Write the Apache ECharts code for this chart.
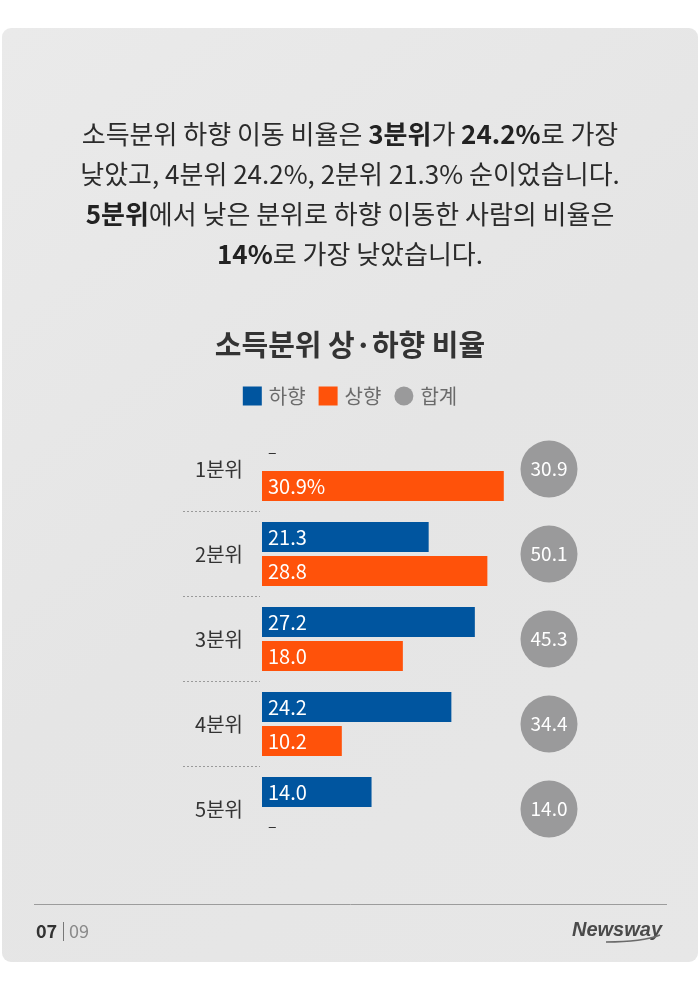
<!DOCTYPE html>
<html>
<head>
<meta charset="utf-8">
<script src="https://cdn.jsdelivr.net/npm/echarts@6/dist/echarts.min.js"></script>
<style>
html,body{margin:0;padding:0;background:#ffffff;}
#chart{width:700px;height:990px;}
</style>
</head>
<body>
<div id="chart"></div>
<script>
// ---- data ----
const categories = ['1분위', '2분위', '3분위', '4분위', '5분위'];
const downward = [null, 21.3, 27.2, 24.2, 14.0];   // 하향
const upward   = [30.9, 28.8, 18.0, 10.2, null];   // 상향
const totals   = [30.9, 50.1, 45.3, 34.4, 14.0];   // 합계
const seriesNames = ['하향', '상향', '합계'];
const introLines = [
  '소득분위 하향 이동 비율은 {b|3분위}가 {b|24.2%}로 가장',
  '낮았고, 4분위 24.2%, 2분위 21.3% 순이었습니다.',
  '{b|5분위}에서 낮은 분위로 하향 이동한 사람의 비율은',
  '{b|14%}로 가장 낮았습니다.'
];
const chartTitle = '소득분위 상·하향 비율';
const pageCurrent = '07';
const pageTotal = '09';
const brand = 'Newsway';

// ---- styles ----
const FONT = '"Noto Sans CJK KR", "Noto Sans", sans-serif';
const BLUE = '#00559f';
const ORANGE = '#ff520a';
const GREY = '#9a9a9b';
const introTop = 118, introStep = 40;

const chart = echarts.init(document.getElementById('chart'), null, {renderer: 'canvas'});

const titles = introLines.map((line, i) => ({
  text: line,
  left: 'center',
  top: introTop + i * introStep,
  padding: 0,
  textStyle: {
    fontFamily: FONT, fontSize: 26, fontWeight: 'normal', color: '#2b2b2b', lineHeight: 32,
    rich: { b: { fontFamily: FONT, fontSize: 26, fontWeight: 'bold', color: '#222', lineHeight: 32 } }
  }
}));
titles.push({
  text: chartTitle,
  left: 'center',
  top: 328,
  padding: 0,
  textStyle: { fontFamily: FONT, fontSize: 29, fontWeight: 'bold', color: '#333', lineHeight: 34 }
});

function dataItems(arr, firstSuffix) {
  return arr.map((v, i) => {
    if (v === null) {
      return {
        value: 0,
        label: { show: true, position: 'right', distance: 6, formatter: '–', color: '#333', fontSize: 16 }
      };
    }
    const item = { value: v };
    if (firstSuffix && i === 0) {
      item.label = { formatter: v.toFixed(1) + '%' };
    }
    return item;
  });
}

const barLabel = {
  show: true,
  position: 'insideLeft',
  distance: 6,
  color: '#fff',
  fontFamily: FONT,
  fontSize: 20,
  formatter: p => Number(p.value).toFixed(1)
};

const option = {
  backgroundColor: 'transparent',
  animation: false,
  title: titles,
  legend: {
    top: 381,
    left: 'center',
    itemWidth: 19,
    itemHeight: 19,
    itemGap: 13,
    textStyle: { fontFamily: FONT, fontSize: 20, color: '#6b6b6b', padding: [0, 0, 0, 2] },
    data: [
      { name: seriesNames[0], icon: 'rect' },
      { name: seriesNames[1], icon: 'rect' },
      { name: seriesNames[2], icon: 'circle' }
    ]
  },
  grid: [
    { left: 262, top: 426.5, width: 313, height: 425, containLabel: false },
    { left: 521, top: 426.5, width: 56, height: 425, containLabel: false },
    { left: 183, top: 511.5, width: 77, height: 255, containLabel: false }
  ],
  xAxis: [
    { gridIndex: 0, type: 'value', min: 0, max: 40, show: false },
    { gridIndex: 1, type: 'value', min: 0, max: 2, show: false },
    { gridIndex: 2, type: 'value', min: 0, max: 1, show: false }
  ],
  yAxis: [
    {
      gridIndex: 0, type: 'category', data: categories, inverse: true,
      axisLine: { show: false }, axisTick: { show: false }, splitLine: { show: false },
      axisLabel: { margin: 19, fontFamily: FONT, fontSize: 20, color: '#333' }
    },
    {
      gridIndex: 1, type: 'category', data: categories, inverse: true, show: false
    },
    {
      gridIndex: 2, type: 'value', min: 0, max: 3, interval: 1,
      axisLine: { show: false }, axisTick: { show: false }, axisLabel: { show: false },
      splitLine: { show: true, lineStyle: { type: [2, 2], color: '#9a9a9a', width: 1 } }
    }
  ],
  series: [
    {
      name: seriesNames[0], type: 'bar', xAxisIndex: 0, yAxisIndex: 0,
      barWidth: 30, barGap: '13.3%',
      itemStyle: { color: BLUE },
      label: barLabel,
      data: dataItems(downward, false)
    },
    {
      name: seriesNames[1], type: 'bar', xAxisIndex: 0, yAxisIndex: 0,
      barWidth: 30, barGap: '13.3%',
      itemStyle: { color: ORANGE },
      label: barLabel,
      data: dataItems(upward, true)
    },
    {
      name: seriesNames[2], type: 'scatter', xAxisIndex: 1, yAxisIndex: 1,
      symbol: 'circle', symbolSize: 57,
      itemStyle: { color: GREY, opacity: 1 },
      label: {
        show: true, position: 'inside', color: '#fff', fontFamily: FONT, fontSize: 19,
        formatter: p => Number(p.value[2]).toFixed(1)
      },
      data: totals.map((t, i) => [1, categories[i], t])
    }
  ],
  graphic: [
    {
      type: 'rect', z: -100, silent: true,
      shape: { x: 2, y: 28, width: 696, height: 934, r: 9 },
      style: {
        fill: new echarts.graphic.LinearGradient(0, 0, 1, 1, [
          { offset: 0, color: '#eaeaea' },
          { offset: 0.5, color: '#e5e5e5' },
          { offset: 1, color: '#e7e7e7' }
        ])
      }
    },
    {
      type: 'line', silent: true,
      shape: { x1: 34, y1: 904.5, x2: 667, y2: 904.5 },
      style: { stroke: '#9c9c9c', lineWidth: 1 }
    },
    {
      type: 'text', silent: true, x: 36, y: 931,
      style: { text: pageCurrent, fontFamily: FONT, fontSize: 18, fontWeight: 'bold', fill: '#333', textVerticalAlign: 'middle' }
    },
    {
      type: 'line', silent: true,
      shape: { x1: 63.5, y1: 922, x2: 63.5, y2: 941 },
      style: { stroke: '#777', lineWidth: 1 }
    },
    {
      type: 'text', silent: true, x: 69, y: 931,
      style: { text: pageTotal, fontFamily: FONT, fontSize: 18, fontWeight: 'normal', fill: '#8a8a8a', textVerticalAlign: 'middle' }
    },
    {
      type: 'text', silent: true, x: 662, y: 930,
      style: { text: brand, fontFamily: '"Liberation Sans", Arial, sans-serif', fontSize: 20, fontWeight: 'bold', fontStyle: 'italic', fill: '#4a4a4a', textAlign: 'right', textVerticalAlign: 'middle' }
    },
    {
      type: 'bezierCurve', silent: true,
      shape: { x1: 606, y1: 942, x2: 660, y2: 935, cpx1: 625, cpy1: 942, cpx2: 645, cpy2: 941 },
      style: { stroke: '#6a6a6a', lineWidth: 1.6, fill: null }
    }
  ]
};

chart.setOption(option);
</script>
</body>
</html>
